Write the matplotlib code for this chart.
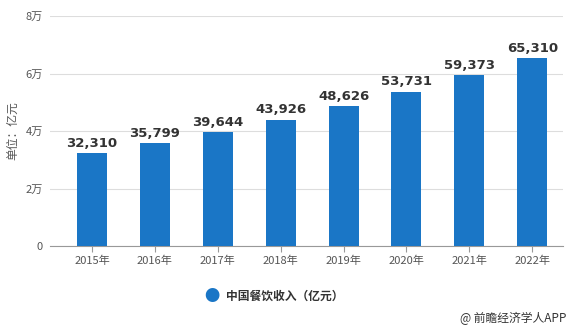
import matplotlib.pyplot as plt

plt.rcParams['font.family'] = ['Noto Sans CJK SC', 'DejaVu Sans']

years = ['2015年', '2016年', '2017年', '2018年', '2019年', '2020年', '2021年', '2022年']
revenue = [32310, 35799, 39644, 43926, 48626, 53731, 59373, 65310]
yticks = [0, 20000, 40000, 60000, 80000]
ytick_labels = ['0', '2万', '4万', '6万', '8万']

fig = plt.figure(figsize=(5.72, 3.30), dpi=100)
ax = fig.add_axes([0.0874, 0.2545, 0.897, 0.697])

x = range(len(years))
bars = ax.bar(x, revenue, width=0.477, color='#1a76c6', zorder=3)

for xi, v in zip(x, revenue):
    ax.text(xi, v + 1200, f'{v:,}', ha='center', va='bottom',
            fontsize=9.5, fontweight='bold', color='#333333',
            family='DejaVu Sans')

ax.set_xlim(-0.668, len(years) - 0.51)
ax.set_ylim(0, 80000)
ax.set_yticks(yticks)
ax.set_yticklabels(ytick_labels)
ax.set_xticks(list(x))
ax.set_xticklabels(years)
ax.tick_params(axis='both', labelsize=8, labelcolor='#555555')
ax.tick_params(axis='y', length=0, pad=5)
ax.tick_params(axis='x', length=4, color='#999999', pad=3)
ax.grid(axis='y', color='#dddddd', linewidth=0.8, zorder=0)
for s in ['top', 'right', 'left']:
    ax.spines[s].set_visible(False)
ax.spines['bottom'].set_color('#999999')
ax.set_ylabel('单位：亿元', fontsize=8.5, color='#555555', labelpad=5)

# legend
fig.text(0.371, 0.103, '●', fontsize=11, color='#1a76c6', ha='center', va='center')
fig.text(0.395, 0.103, '中国餐饮收入（亿元）', fontsize=8.5, fontweight='bold',
         color='#333333', ha='left', va='center')
fig.text(0.99, 0.035, '@ 前瞻经济学人APP', fontsize=8.5, color='#333333',
         ha='right', va='center')

fig.savefig('out.png', dpi=100)
